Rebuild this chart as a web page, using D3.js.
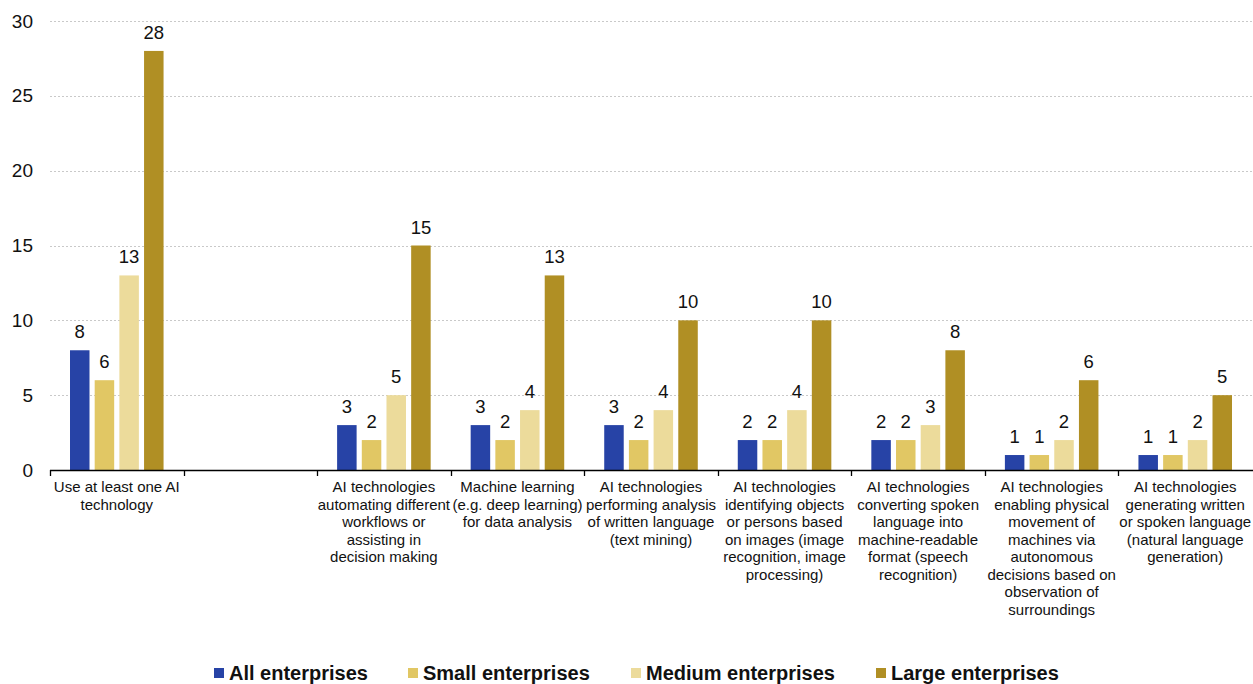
<!DOCTYPE html>
<html>
<head>
<meta charset="utf-8">
<script src="https://cdn.jsdelivr.net/npm/d3@7"></script>
<style>
  html, body { margin: 0; padding: 0; background: #fff; }
  svg { display: block; font-family: "Liberation Sans", Arial, sans-serif; }
</style>
</head>
<body>
<svg id="chart" width="1253" height="684"></svg>
<script>
const categories = [
  "Use at least one AI technology",
  "",
  "AI technologies automating different workflows or assisting in decision making",
  "Machine learning (e.g. deep learning) for data analysis",
  "AI technologies performing analysis of written language (text mining)",
  "AI technologies identifying objects or persons based on images (image recognition, image processing)",
  "AI technologies converting spoken language into machine-readable format (speech recognition)",
  "AI technologies enabling physical movement of machines via autonomous decisions based on observation of surroundings",
  "AI technologies generating written or spoken language (natural language generation)"
];
const categoryLines = [
  ["Use at least one AI", "technology"],
  [],
  ["AI technologies", "automating different", "workflows or", "assisting in", "decision making"],
  ["Machine learning", "(e.g. deep learning)", "for data analysis"],
  ["AI technologies", "performing analysis", "of written language", "(text mining)"],
  ["AI technologies", "identifying objects", "or persons based", "on images (image", "recognition, image", "processing)"],
  ["AI technologies", "converting spoken", "language into", "machine-readable", "format (speech", "recognition)"],
  ["AI technologies", "enabling physical", "movement of", "machines via", "autonomous", "decisions based on", "observation of", "surroundings"],
  ["AI technologies", "generating written", "or spoken language", "(natural language", "generation)"]
];
const seriesNames = ["All enterprises", "Small enterprises", "Medium enterprises", "Large enterprises"];
const allEnterprises    = [8, null, 3, 3, 3, 2, 2, 1, 1];
const smallEnterprises  = [6, null, 2, 2, 2, 2, 2, 1, 1];
const mediumEnterprises = [13, null, 5, 4, 4, 4, 3, 2, 2];
const largeEnterprises  = [28, null, 15, 13, 10, 10, 8, 6, 5];
const yTicks = [0, 5, 10, 15, 20, 25, 30];
const colors = ["#2743a6", "#e1c764", "#ecdb9b", "#b08f24"];

const seriesValues = [allEnterprises, smallEnterprises, mediumEnterprises, largeEnterprises];

const svg = d3.select("#chart");
const mLeft = 50, mRight = 1252, mTop = 21, mBottom = 470;

const x0 = d3.scaleBand().domain(d3.range(categories.length)).range([mLeft, mRight]).padding(0);
const x1 = d3.scaleBand().domain(d3.range(seriesNames.length))
  .range([20, x0.bandwidth() - 20]).paddingInner(0.21).paddingOuter(0);
const y = d3.scaleLinear().domain([0, 30]).range([mBottom, mTop]);

// gridlines
svg.append("g").selectAll("line").data(yTicks.filter(t => t > 0)).join("line")
  .attr("x1", mLeft).attr("x2", 1253)
  .attr("y1", d => Math.round(y(d)) + 0.5).attr("y2", d => Math.round(y(d)) + 0.5)
  .attr("stroke", "#c9c9c9").attr("stroke-width", 1).attr("stroke-dasharray", "2,2");

// y labels
svg.append("g").selectAll("text").data(yTicks).join("text")
  .attr("x", 33).attr("y", d => y(d)).attr("dy", "0.35em")
  .attr("text-anchor", "end").attr("font-size", 19).attr("fill", "#111")
  .text(d => d);

// bars
const groups = svg.append("g").selectAll("g").data(categories.map((c, i) => i)).join("g")
  .attr("transform", i => `translate(${x0(i)},0)`);

groups.selectAll("rect").data(i => seriesValues.map((s, k) => ({k, v: s[i]})).filter(d => d.v != null)).join("rect")
  .attr("x", d => x1(d.k)).attr("width", x1.bandwidth())
  .attr("y", d => y(d.v)).attr("height", d => y(0) - y(d.v))
  .attr("fill", d => colors[d.k]);

groups.selectAll("text.val").data(i => seriesValues.map((s, k) => ({k, v: s[i]})).filter(d => d.v != null)).join("text")
  .attr("class", "val")
  .attr("x", d => x1(d.k) + x1.bandwidth() / 2).attr("y", d => y(d.v) - 12)
  .attr("text-anchor", "middle").attr("font-size", 18.5).attr("fill", "#111")
  .text(d => d.v);

// x axis
const axis = svg.append("g");
axis.append("line").attr("x1", mLeft).attr("x2", 1253).attr("y1", mBottom + 0.5).attr("y2", mBottom + 0.5)
  .attr("stroke", "#000").attr("stroke-width", 1.3);
axis.selectAll("line.tick").data(d3.range(categories.length)).join("line").attr("class", "tick")
  .attr("x1", i => Math.round(x0(i)) + 0.5).attr("x2", i => Math.round(x0(i)) + 0.5)
  .attr("y1", mBottom).attr("y2", mBottom + 6).attr("stroke", "#000").attr("stroke-width", 1.3);

// category labels
const cl = svg.append("g").selectAll("text").data(d3.range(categories.length)).join("text")
  .attr("x", i => x0(i) + x0.bandwidth() / 2).attr("y", 492)
  .attr("text-anchor", "middle").attr("font-size", 15).attr("fill", "#111");
cl.each(function(i) {
  d3.select(this).selectAll("tspan").data(categoryLines[i]).join("tspan")
    .attr("x", x0(i) + x0.bandwidth() / 2).attr("dy", (d, j) => j === 0 ? 0 : 17.5)
    .text(d => d);
});

// legend
const legendX = [214, 408, 631, 876];
const lg = svg.append("g").selectAll("g").data(seriesNames).join("g")
  .attr("transform", (d, i) => `translate(${legendX[i]},673)`);
lg.append("rect").attr("x", 0).attr("y", -5).attr("width", 10).attr("height", 10)
  .attr("fill", (d, i) => colors[i]);
lg.append("text").attr("x", 15).attr("y", 0).attr("dy", "0.35em")
  .attr("font-size", 20).attr("font-weight", "bold").attr("fill", "#111")
  .text(d => d);
</script>
</body>
</html>
